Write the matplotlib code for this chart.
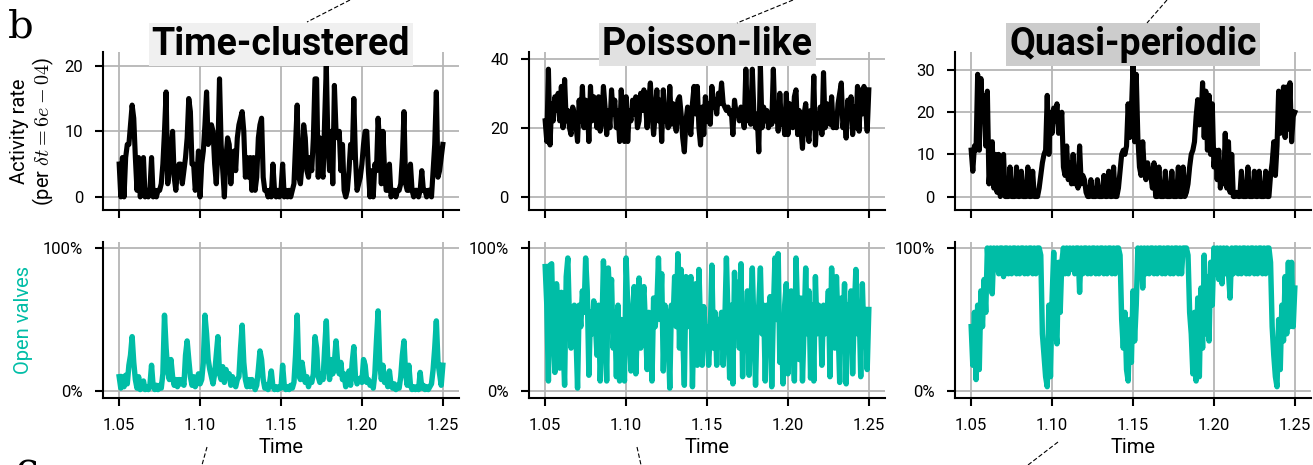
import numpy as np
import matplotlib
matplotlib.use('Agg')
import matplotlib.pyplot as plt
from matplotlib.ticker import PercentFormatter
from matplotlib.lines import Line2D

plt.rcParams['font.family'] = ['Roboto', 'DejaVu Sans']
plt.rcParams['mathtext.fontset'] = 'cm'

# ---------------- data ----------------
t_start, t_end = 1.05, 1.25
regimes = ['Time-clustered', 'Poisson-like', 'Quasi-periodic']
title_colors = ['#f0f0f0', '#e1e1e1', '#cccccc']
x_ticks = [1.05, 1.10, 1.15, 1.20, 1.25]
activity_yticks = [[0, 10, 20], [0, 20, 40], [0, 10, 20, 30]]
activity_ylims = [(-2.0, 22.1), (-3.9, 42.0), (-3.2, 34.3)]

activity_clustered = [
    5, 0, 6, 0, 6, 8, 8, 11, 14, 12,
    6, 1, 6, 0, 1, 6, 0, 1, 0, 1,
    6, 0, 1, 0, 1, 1, 2, 5, 10, 16,
    2, 4, 7, 10, 3, 1, 4, 5, 5, 2,
    4, 6, 9, 15, 13, 5, 5, 1, 3, 7,
    0, 5, 7, 11, 16, 8, 9, 11, 10, 5,
    2, 7, 18, 8, 4, 0, 6, 9, 8, 2,
    6, 7, 4, 9, 11, 12, 13, 10, 3, 6,
    3, 6, 1, 6, 1, 3, 9, 11, 12, 3,
    1, 1, 0, 1, 0, 5, 1, 0, 1, 0,
    1, 5, 0, 1, 0, 1, 0, 1, 2, 8,
    14, 3, 2, 5, 11, 9, 4, 3, 6, 4,
    9, 18, 18, 3, 9, 4, 3, 12, 20, 8,
    4, 10, 2, 17, 10, 9, 10, 4, 8, 1,
    0, 1, 4, 8, 6, 15, 6, 1, 2, 3,
    5, 8, 10, 10, 4, 0, 4, 0, 5, 4,
    12, 8, 2, 10, 4, 1, 1, 5, 0, 1,
    1, 0, 1, 1, 2, 6, 13, 2, 1, 1,
    5, 1, 0, 1, 1, 0, 1, 4, 1, 1,
    0, 1, 1, 0, 4, 8, 16, 3, 4, 6,
    8]

activity_poisson = [
    22, 16, 37, 15, 27, 22, 29, 25, 30, 22,
    32, 20, 34, 22, 25, 20, 18, 26, 24, 21,
    16, 28, 22, 32, 20, 28, 26, 16, 32, 22,
    29, 28, 20, 29, 19, 22, 32, 26, 18, 25,
    20, 31, 24, 28, 20, 25, 16, 31, 22, 16,
    29, 16, 25, 22, 28, 24, 29, 20, 22, 30,
    25, 31, 27, 20, 28, 33, 24, 18, 24, 31,
    22, 28, 16, 31, 22, 26, 20, 32, 21, 27,
    22, 19, 28, 29, 24, 17, 13, 22, 26, 22,
    18, 27, 32, 24, 32, 20, 15, 26, 18, 29,
    22, 27, 21, 32, 26, 28, 24, 30, 27, 33,
    27, 26, 25, 26, 24, 25, 18, 28, 24, 25,
    22, 26, 24, 20, 37, 22, 26, 21, 37, 24,
    20, 24, 13, 38, 20, 26, 22, 25, 20, 24,
    21, 37, 22, 27, 19, 30, 21, 24, 18, 30,
    18, 27, 22, 20, 29, 31, 18, 25, 20, 14,
    24, 27, 20, 16, 25, 20, 35, 15, 24, 20,
    26, 18, 36, 20, 27, 22, 21, 29, 20, 23,
    20, 27, 30, 33, 20, 24, 17, 28, 23, 29,
    18, 26, 20, 32, 19, 31, 24, 32, 26, 19,
    31]

activity_periodic = [
    11, 6, 12, 11, 29, 11, 28, 18, 24, 12,
    25, 3, 8, 13, 2, 10, 1, 10, 0, 2,
    10, 0, 0, 0, 7, 0, 0, 0, 7, 0,
    0, 6, 0, 0, 0, 7, 0, 0, 6, 0,
    0, 0, 2, 5, 8, 10, 11, 24, 10, 20,
    15, 21, 18, 22, 15, 17, 20, 7, 5, 12,
    4, 8, 3, 10, 3, 5, 2, 12, 3, 5,
    4, 1, 0, 0, 4, 0, 0, 0, 4, 0,
    0, 0, 5, 0, 0, 6, 0, 0, 7, 0,
    0, 2, 6, 10, 11, 10, 12, 22, 14, 20,
    31, 13, 29, 14, 7, 5, 13, 6, 4, 8,
    6, 5, 2, 8, 0, 0, 7, 0, 0, 0,
    6, 0, 0, 0, 6, 0, 0, 0, 7, 0,
    0, 7, 0, 1, 3, 7, 10, 11, 13, 19,
    23, 17, 18, 27, 14, 25, 11, 24, 10, 22,
    7, 11, 4, 11, 2, 8, 3, 15, 2, 13,
    1, 10, 0, 0, 1, 0, 0, 6, 0, 0,
    0, 7, 0, 0, 0, 6, 0, 0, 6, 0,
    0, 0, 6, 0, 0, 5, 8, 13, 5, 12,
    25, 15, 16, 26, 14, 26, 16, 27, 13, 19,
    20]

valves_clustered = [
    10, 2, 10, 3, 11, 5, 18, 25, 38, 20,
    8, 2, 10, 1, 4, 7, 1, 3, 1, 4,
    18, 3, 1, 4, 1, 4, 2, 12, 53, 30,
    14, 8, 22, 10, 4, 8, 3, 8, 5, 8,
    4, 25, 35, 22, 10, 4, 10, 3, 6, 12,
    5, 8, 20, 53, 40, 22, 15, 10, 5, 12,
    25, 38, 12, 8, 17, 6, 15, 10, 12, 4,
    10, 5, 3, 8, 10, 30, 46, 20, 8, 3,
    8, 3, 8, 5, 1, 4, 15, 28, 22, 8,
    2, 4, 1, 6, 14, 3, 1, 3, 1, 3,
    2, 18, 4, 1, 3, 1, 4, 2, 6, 25,
    53, 12, 8, 20, 12, 6, 10, 3, 8, 6,
    12, 38, 30, 10, 6, 12, 8, 30, 49, 18,
    8, 22, 12, 20, 35, 20, 12, 20, 8, 12,
    3, 6, 14, 4, 20, 31, 10, 5, 8, 9,
    6, 22, 18, 6, 8, 4, 6, 2, 12, 35,
    56, 20, 8, 18, 6, 8, 3, 14, 4, 2,
    5, 1, 4, 2, 10, 25, 35, 12, 4, 18,
    4, 1, 3, 1, 3, 1, 13, 2, 4, 1,
    3, 1, 3, 5, 15, 30, 49, 20, 12, 4,
    18]

valves_poisson = [
    87, 60, 7, 88, 89, 40, 13, 75, 55, 16,
    69, 35, 4, 80, 93, 50, 30, 55, 60, 40,
    2, 60, 45, 70, 55, 93, 70, 11, 55, 40,
    63, 48, 25, 60, 7, 40, 91, 55, 7, 86,
    60, 78, 30, 55, 10, 60, 7, 50, 25, 7,
    93, 60, 40, 14, 55, 73, 12, 45, 79, 30,
    60, 73, 45, 15, 55, 40, 7, 65, 45, 60,
    93, 50, 82, 14, 60, 55, 40, 2, 60, 48,
    80, 45, 96, 30, 85, 40, 4, 80, 45, 60,
    80, 3, 55, 75, 18, 85, 45, 18, 59, 40,
    45, 18, 40, 88, 30, 55, 18, 50, 40, 55,
    18, 48, 93, 50, 9, 60, 5, 83, 40, 76,
    30, 89, 10, 55, 40, 70, 11, 55, 86, 45,
    4, 55, 60, 86, 40, 60, 7, 60, 45, 66,
    3, 55, 93, 50, 96, 20, 45, 5, 60, 75,
    12, 50, 70, 40, 7, 93, 55, 22, 65, 7,
    45, 86, 40, 70, 9, 60, 7, 80, 40, 60,
    57, 18, 60, 40, 45, 70, 10, 86, 50, 30,
    80, 45, 6, 65, 40, 75, 5, 60, 45, 70,
    12, 55, 85, 40, 60, 10, 75, 35, 57, 15,
    57]

valves_periodic = [
    45, 18, 55, 8, 60, 15, 70, 45, 78, 55,
    100, 80, 100, 68, 100, 85, 100, 82, 100, 100,
    80, 100, 100, 82, 100, 82, 100, 100, 82, 100,
    82, 100, 100, 82, 100, 82, 100, 100, 82, 100,
    82, 100, 100, 95, 40, 25, 10, 3, 60, 10,
    65, 97, 45, 33, 90, 55, 90, 100, 82, 100,
    82, 100, 85, 100, 82, 100, 100, 69, 100, 82,
    100, 100, 82, 100, 82, 100, 100, 82, 100, 82,
    100, 100, 82, 100, 82, 100, 100, 82, 100, 82,
    100, 100, 95, 50, 30, 55, 15, 7, 50, 20,
    70, 35, 60, 100, 80, 100, 72, 100, 82, 100,
    82, 100, 100, 82, 100, 82, 100, 100, 82, 100,
    82, 100, 100, 82, 100, 82, 100, 100, 82, 100,
    82, 100, 100, 100, 95, 55, 40, 12, 55, 7,
    65, 10, 72, 30, 95, 40, 80, 35, 90, 60,
    100, 82, 100, 78, 100, 75, 100, 82, 100, 82,
    65, 100, 82, 100, 100, 82, 100, 82, 100, 100,
    82, 100, 82, 100, 100, 82, 100, 82, 100, 100,
    82, 100, 82, 100, 100, 90, 45, 25, 10, 3,
    50, 15, 60, 35, 80, 40, 90, 45, 90, 45,
    72]

activity_series = [activity_clustered, activity_poisson, activity_periodic]
valves_series = [valves_clustered, valves_poisson, valves_periodic]

# ---------------- style ----------------
BLACK = '#000000'
TEAL = '#00bda6'
GRID = '#b5b5b5'

W, H = 1313, 465
fig = plt.figure(figsize=(W / 100, H / 100), dpi=100)

col_left = [103, 529, 955]
col_w = 356
top_row = (52, 210)
bot_row = (242, 398)


def px_axes(x0, y0, x1, y1):
    return fig.add_axes([x0 / W, 1 - y1 / H, (x1 - x0) / W, (y1 - y0) / H])


def style(ax):
    ax.set_axisbelow(True)
    ax.grid(True, color=GRID, lw=1.3)
    for s in ['top', 'right']:
        ax.spines[s].set_visible(False)
    for s in ['left', 'bottom']:
        ax.spines[s].set_linewidth(1.5)
    ax.tick_params(length=6, width=1.5, labelsize=12, pad=8.4)
    ax.set_xlim(1.04, 1.26)
    ax.set_xticks(x_ticks)


for k in range(3):
    x0 = col_left[k]
    # activity
    ax = px_axes(x0, top_row[0], x0 + col_w, top_row[1])
    style(ax)
    vals = activity_series[k]
    t = np.linspace(t_start, t_end, len(vals))
    ax.plot(t, vals, color=BLACK, lw=3.7, solid_joinstyle='round')
    ax.set_ylim(*activity_ylims[k])
    ax.set_yticks(activity_yticks[k])
    ax.set_xticklabels([])
    ax.text(0.5, 1.045, regimes[k], transform=ax.transAxes, ha='center',
            va='center', fontsize=27, fontweight='bold', zorder=10,
            bbox=dict(boxstyle='square,pad=0.08', fc=title_colors[k], ec='none'))
    if k == 0:
        ax.set_ylabel('Activity rate\n(per $\\delta t = 6e-04$)', fontsize=14.5,
                      labelpad=6, linespacing=1.1)

    # valves
    ax2 = px_axes(x0, bot_row[0], x0 + col_w, bot_row[1])
    style(ax2)
    vv = np.array(valves_series[k]) / 100.0
    t2 = np.linspace(t_start, t_end, len(vv))
    ax2.plot(t2, vv, color=TEAL, lw=3.9, solid_joinstyle='round')
    ax2.set_ylim(-0.049, 1.042)
    ax2.set_yticks([0, 1])
    ax2.yaxis.set_major_formatter(PercentFormatter(1.0, decimals=0))
    ax2.set_xticklabels(['1.05', '1.10', '1.15', '1.20', '1.25'])
    ax2.set_xlabel('Time', fontsize=14.5, labelpad=3.3)
    if k == 0:
        ax2.set_ylabel('Open valves', fontsize=14.5, color=TEAL, labelpad=7)

# panel letters
fig.text(8 / W, 1 - 37 / H, 'b', fontsize=29, va='baseline', ha='left',
         family='DejaVu Serif')
fig.text(16 / W, 1 - 480 / H, 'c', fontsize=29, va='baseline', ha='left',
         family='DejaVu Serif')

# dashed connector lines (cut from the surrounding figure)
segments = [((350, 0), (307, 22)), ((793, 0), (737, 23)), ((1167, 0), (1147, 23)),
            ((207, 447), (202, 465)), ((637, 447), (641, 465)), ((1058, 442), (1028, 465))]
for (xa, ya), (xb, yb) in segments:
    fig.add_artist(Line2D([xa / W, xb / W], [1 - ya / H, 1 - yb / H],
                          transform=fig.transFigure, color='black', lw=0.8,
                          ls=(0, (4, 2))))

fig.savefig('out.png', dpi=100)
